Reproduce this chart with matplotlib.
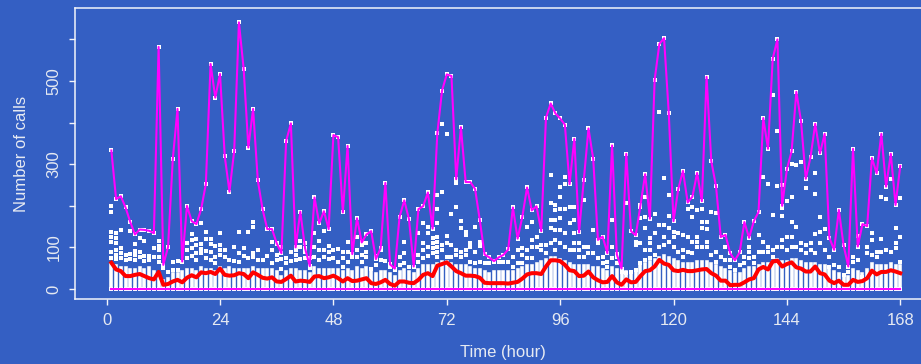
import matplotlib
matplotlib.use('Agg')
import matplotlib.pyplot as plt

# ---------------- data ----------------
hours = list(range(1, 169))

max_calls = [
    333, 216, 223, 196, 161, 131, 143, 142, 140, 134,
    582, 58, 101, 312, 433, 66, 200, 163, 156, 192,
    252, 541, 460, 517, 319, 234, 332, 641, 530, 340,
    433, 261, 192, 144, 144, 110, 86, 356, 398, 100,
    186, 98, 55, 220, 158, 187, 144, 370, 365, 184,
    344, 84, 170, 112, 131, 139, 72, 98, 255, 59,
    49, 173, 213, 168, 54, 192, 199, 232, 145, 374,
    477, 516, 512, 264, 389, 257, 257, 240, 165, 83,
    76, 67, 76, 82, 95, 196, 121, 174, 244, 189,
    199, 139, 412, 446, 422, 410, 395, 252, 361, 136,
    261, 386, 313, 118, 126, 86, 345, 83, 49, 325,
    139, 129, 201, 276, 169, 502, 589, 603, 422, 163,
    240, 284, 208, 222, 279, 211, 510, 307, 247, 125,
    130, 86, 69, 88, 161, 123, 163, 185, 411, 337,
    554, 600, 200, 288, 331, 474, 403, 265, 317, 397,
    326, 373, 123, 94, 190, 105, 54, 337, 102, 156,
    151, 315, 278, 373, 246, 325, 202, 296]

mean_calls = [
    63, 47, 43, 31, 31, 34, 36, 31, 26, 23,
    41, 10, 12, 18, 22, 16, 27, 33, 28, 40,
    38, 41, 36, 49, 34, 32, 33, 38, 36, 26,
    40, 34, 27, 25, 28, 18, 17, 24, 32, 18,
    20, 19, 17, 30, 31, 26, 28, 32, 26, 18,
    26, 19, 20, 23, 26, 14, 12, 16, 22, 12,
    8, 18, 18, 15, 14, 22, 34, 38, 31, 56,
    60, 64, 54, 43, 38, 32, 32, 31, 27, 15,
    14, 14, 14, 14, 13, 15, 17, 25, 35, 38,
    38, 36, 54, 69, 69, 67, 58, 45, 43, 31,
    32, 42, 28, 21, 16, 17, 31, 16, 10, 23,
    16, 17, 31, 43, 45, 54, 70, 61, 58, 45,
    43, 46, 43, 43, 45, 47, 48, 38, 32, 20,
    20, 9, 10, 10, 16, 23, 26, 47, 53, 47,
    66, 68, 54, 60, 64, 52, 49, 42, 42, 54,
    38, 35, 20, 14, 20, 10, 10, 22, 17, 19,
    26, 44, 35, 41, 41, 45, 42, 38]

min_calls = [0] * 168

# top of the densely packed column of observations in each hour
dense_top = [
    60, 55, 50, 50, 45, 45, 50, 45, 50, 40,
    35, 20, 25, 35, 35, 40, 45, 45, 40, 50,
    45, 45, 40, 50, 45, 50, 45, 45, 45, 45,
    50, 45, 45, 45, 45, 40, 30, 40, 45, 45,
    40, 40, 35, 50, 45, 45, 45, 45, 45, 40,
    45, 40, 50, 45, 50, 40, 35, 40, 40, 35,
    30, 40, 45, 40, 35, 45, 55, 55, 55, 60,
    65, 65, 60, 55, 55, 55, 50, 45, 45, 40,
    35, 40, 40, 40, 40, 40, 45, 50, 55, 55,
    60, 65, 70, 75, 75, 70, 65, 60, 55, 55,
    55, 55, 50, 50, 45, 40, 50, 45, 35, 40,
    35, 40, 55, 60, 65, 70, 75, 80, 75, 70,
    65, 60, 60, 60, 65, 65, 65, 60, 55, 50,
    45, 40, 35, 35, 45, 50, 50, 55, 60, 60,
    65, 70, 65, 65, 70, 70, 65, 60, 60, 60,
    55, 55, 45, 40, 35, 30, 30, 45, 40, 35,
    45, 60, 55, 55, 55, 60, 55, 55]

# scattered observations above the dense column, per hour
other_calls = [
    [200, 185, 138, 126, 112, 90, 75], [134, 122, 110, 94, 82, 71], [143, 98, 86, 74], [82, 70],
    [139, 83, 71], [108, 92, 82, 70], [122, 90, 76], [116, 79, 68], [79, 70], [98, 76],
    [116, 103, 94, 78, 66], [58, 51], [102, 42], [66, 46], [68, 46], [66], [111, 94, 74],
    [132, 118, 98, 79], [119, 106, 86, 70], [159, 108, 95, 86], [138, 119, 92, 74],
    [119, 108, 90, 70], [103, 76, 63], [134, 106, 94, 82], [94, 78], [70], [100, 68],
    [138, 86, 66], [98, 79], [138, 74], [162, 150, 87, 76], [94, 70], [70], [79],
    [114, 94, 63], [108, 82, 70], [100, 71, 47], [74, 62], [90, 68], [94, 82, 70],
    [116, 100, 71], [111, 90, 74], [74, 50], [135, 100, 76], [116, 94, 70], [139, 94, 76],
    [103, 90, 71], [94, 74], [95, 66], [90, 74, 54], [114, 90, 66], [76], [126, 94, 76],
    [106, 82, 66], [111, 90, 76], [47], [79, 58], [94, 70], [68], [54], [46], [78, 58],
    [114, 86, 63], [54], [54], [135, 82, 66], [158, 111, 94, 74], [150, 134, 100, 80],
    [122, 110, 98, 86], [226, 192, 158, 126, 114, 102, 90, 78], [397, 234, 106, 94],
    [373, 127, 110, 78], [180, 106, 78], [254, 196, 94, 82], [164, 146, 90, 78],
    [138, 130, 94, 82], [110, 102, 66], [148, 90, 62], [114, 103, 66], [62], [62], [66],
    [66], [66], [66], [78, 54], [94, 62], [98, 82, 62], [150, 94, 74], [162, 118, 102, 74],
    [126, 102], [106, 94], [106, 86], [274, 206, 166, 146, 110],
    [202, 190, 166, 142, 118, 94], [246, 220, 192, 170, 142, 110],
    [270, 252, 192, 134, 102], [252, 198, 158, 94], [198, 166, 134, 110, 94],
    [110, 94, 78], [262, 214, 102, 78], [102, 86], [142, 86], [110, 74], [78, 62],
    [66, 54], [167, 102, 74], [78, 62], [42], [206, 38], [40], [114, 106, 46],
    [198, 170, 110, 62], [220, 172, 146, 94, 70], [122, 110, 94, 74], [180, 134, 82],
    [426, 154, 102], [268, 154, 126, 106], [226, 176, 146, 114], [138, 126, 102],
    [134, 90], [130, 94, 78], [192, 126, 90], [198, 174, 114, 86], [190, 126, 114, 102],
    [192, 160, 146, 102], [160, 145, 114, 102], [186, 82], [182, 90, 66], [78], [102, 70],
    [70, 54], [46], [58], [78, 62], [102, 90, 74], [78, 62], [130, 90], [270, 114, 90],
    [252, 102, 90], [466, 178, 94, 78], [379, 248, 102], [250, 194, 176, 118, 102],
    [212, 126, 94], [300, 220, 162, 126, 102], [298, 150, 102], [306, 110, 94],
    [242, 106, 86], [110, 94], [278, 228, 132, 86], [174, 138, 110], [144, 94], [78, 54],
    [58], [54], [34], [42], [78, 66], [127, 70], [30], [102, 86], [134, 118, 82], [90, 78],
    [220, 120, 90], [216, 94], [264, 90], [146, 110, 98], [218, 126, 66]]

x_ticks = [0, 24, 48, 72, 96, 120, 144, 168]
y_ticks = [0, 100, 200, 300, 400, 500, 600]
y_tick_labels = ['0', '100', '', '300', '', '500', '']

# ---------------- styling ----------------
BG = '#345FC3'
FG = '#E6EAF2'
BOX = '#F2F4FA'
plt.rcParams['font.family'] = ['Liberation Sans', 'DejaVu Sans']

W, H = 921, 364
fig = plt.figure(figsize=(W / 100, H / 100), dpi=100, facecolor=BG)
left_px, right_px, top_px, bot_px = 74.9, 932.0, 8.3, 299.3
ax = fig.add_axes([left_px / W, 1 - bot_px / H,
                   (right_px - left_px) / W, (bot_px - top_px) / H])
ax.set_facecolor(BG)
ax.set_xlim(-6.72, 174.72)
ax.set_ylim(-24.8, 674.8)

# individual observations
px, py = [], []
for h, pts, mx in zip(hours, other_calls, max_calls):
    for v in pts:
        px.append(h)
        py.append(v)
    px.append(h)
    py.append(mx)
    px.append(h)
    py.append(0)
ax.vlines(hours, [0] * len(hours), dense_top, colors='white', linewidth=2.6,
          zorder=2, capstyle='projecting')
ax.scatter(px, py, marker='s', s=6, c='white', linewidths=0, zorder=2)

ax.plot(hours, max_calls, color='#FF00FF', lw=1.5, zorder=3)
ax.plot(hours, min_calls, color='#FF00FF', lw=1.5, zorder=3)
ax.plot(hours, mean_calls, color='#FF0000', lw=2.9, zorder=4, solid_joinstyle='round')

for s in ax.spines.values():
    s.set_color(BOX)
    s.set_linewidth(1.1)

ax.set_xticks(x_ticks)
ax.set_xticklabels([str(t) for t in x_ticks])
ax.set_yticks(y_ticks)
ax.set_yticklabels(y_tick_labels)
ax.tick_params(axis='both', direction='out', length=4.2, width=1.0, color=BOX,
               labelcolor=FG, labelsize=12)
ax.tick_params(axis='x', pad=5.5)
ax.tick_params(axis='y', pad=5.5, labelrotation=90)
for lbl in ax.get_yticklabels():
    lbl.set_va('center')

fig.text(503 / W, 1 - 352 / H, 'Time (hour)', color=FG, fontsize=12,
         ha='center', va='center')
fig.text(22 / W, 1 - 154 / H, 'Number of calls', color=FG, fontsize=12,
         ha='center', va='center', rotation=90)

fig.savefig('out.png', dpi=100, facecolor=BG)
